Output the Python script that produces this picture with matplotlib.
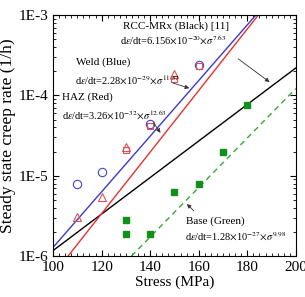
import numpy as np
import matplotlib.pyplot as plt
from matplotlib.ticker import FixedLocator, MultipleLocator, FuncFormatter, LogLocator, NullFormatter

plt.rcParams['font.family'] = 'Liberation Serif'
plt.rcParams['mathtext.fontset'] = 'stix'

# fit lines (end points)
black_x = [100, 200]
black_y = [1.17e-6, 2.2e-4]
blue_x = [100, 183.5]
blue_y = [1.28e-6, 1e-3]
red_x = [106.2, 184.5]
red_y = [1e-6, 1e-3]
green_x = [132.3, 200]
green_y = [1e-6, 1.22e-4]

# measured points
weld_x = [110, 120, 140, 160]
weld_y = [7.9e-6, 1.12e-5, 4.4e-5, 2.4e-4]
haz_tri_x = [110, 120, 130, 150]
haz_tri_y = [3.1e-6, 5.5e-6, 2.25e-5, 1.85e-4]
haz_sq_x = [130, 140, 150, 160]
haz_sq_y = [2.1e-5, 4.2e-5, 1.6e-4, 2.35e-4]
base_x = [130, 130, 140, 150, 160, 170, 180]
base_y = [2.8e-6, 1.86e-6, 1.86e-6, 6.2e-6, 7.8e-6, 2.0e-5, 7.6e-5]

fig = plt.figure(figsize=(3.05, 2.97), dpi=100)
ax = fig.add_subplot(111)
fig.subplots_adjust(left=0.174, right=0.970, top=0.949, bottom=0.138)

ax.plot(black_x, black_y, color='black', lw=1)
ax.plot(blue_x, blue_y, color='#3a3ad0', lw=1)
ax.plot(red_x, red_y, color='#e83030', lw=1)
ax.plot(green_x, green_y, color='#33aa33', lw=1, ls=(0, (4, 3)))

ax.plot(weld_x, weld_y, 'o', mfc='none', mec='#4444cc', ms=6, mew=0.8)
ax.plot(haz_tri_x, haz_tri_y, '^', mfc='none', mec='#e05050', ms=6, mew=0.8)
ax.plot(haz_sq_x, haz_sq_y, 's', mfc='none', mec='#e05050', ms=4.5, mew=0.8)
ax.plot(base_x, base_y, 's', color='#11901a', ms=5)

ax.set_yscale('log')
ax.set_xlim(100, 200)
ax.set_ylim(1e-6, 1e-3)
ax.xaxis.set_major_locator(MultipleLocator(20))
ax.xaxis.set_minor_locator(MultipleLocator(2.5))
ax.yaxis.set_major_locator(FixedLocator([1e-6, 1e-5, 1e-4, 1e-3]))
ax.yaxis.set_major_formatter(FuncFormatter(lambda v, p: '1E%d' % round(np.log10(v))))
ax.yaxis.set_minor_locator(LogLocator(base=10, subs=np.arange(2, 10)))
ax.yaxis.set_minor_formatter(NullFormatter())
ax.tick_params(which='both', direction='in', top=True, right=True, labelsize=11)
ax.tick_params(which='major', length=4)
ax.tick_params(which='minor', length=2)

ax.set_xlabel('Stress (MPa)', fontsize=11, labelpad=1)
ax.set_ylabel('Steady state creep rate (1/h)', fontsize=12.5, labelpad=2)

fs = 8
ffs = 7.5
ax.text(128.8, 7.3e-4, 'RCC-MRx (Black) [11]', fontsize=fs, va='center')
ax.text(127.6, 4.9e-4, r'd$\varepsilon$/dt=6.156$\times$10$^{-20}$$\times\sigma^{7.63}$', fontsize=ffs, va='center')
ax.text(109.5, 2.6e-4, 'Weld (Blue)', fontsize=fs, va='center')
ax.text(109, 1.55e-4, r'd$\varepsilon$/dt=2.28$\times$10$^{-29}$$\times\sigma^{11.57}$', fontsize=ffs, va='center')
ax.text(103.7, 9.5e-5, 'HAZ (Red)', fontsize=fs, va='center')
ax.text(103.7, 5.7e-5, r'd$\varepsilon$/dt=3.26$\times$10$^{-32}$$\times\sigma^{12.63}$', fontsize=ffs, va='center')
ax.text(154.7, 2.73e-6, 'Base (Green)', fontsize=fs, va='center')
ax.text(154.3, 1.73e-6, r'd$\varepsilon$/dt=1.28$\times$10$^{-27}$$\times\sigma^{9.98}$', fontsize=ffs, va='center')

arr = dict(arrowstyle='-|>', color='#333333', lw=0.6, mutation_scale=6)
ax.annotate('', xy=(190.1, 1.4e-4), xytext=(175.3, 3.0e-4), arrowprops=arr)
ax.annotate('', xy=(157.2, 1.2e-4), xytext=(148.1, 1.47e-4), arrowprops=arr)
ax.annotate('', xy=(144.9, 3.2e-5), xytext=(140.7, 4.9e-5), arrowprops=arr)
ax.annotate('', xy=(154.3, 4.7e-6), xytext=(158.8, 3.45e-6), arrowprops=arr)

fig.savefig('out.png', dpi=100)
